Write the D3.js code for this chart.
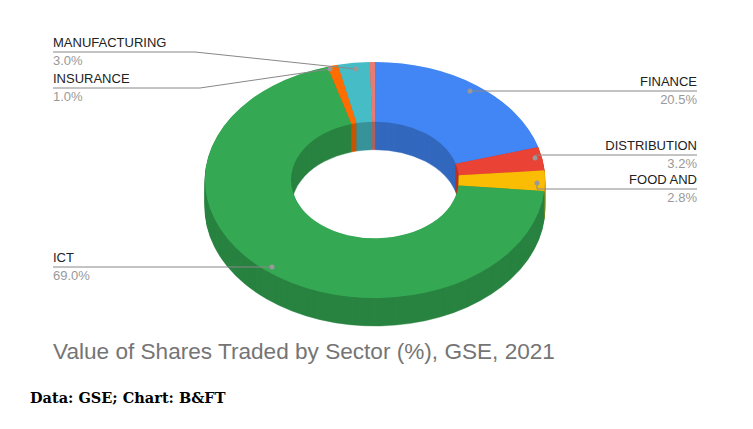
<!DOCTYPE html><html><head><meta charset="utf-8"><script src="https://cdn.jsdelivr.net/npm/d3@7"></script>
<style>body{margin:0;background:#fff}</style></head><body><svg id="c" width="753" height="429"></svg>
<script>
const categories=["FINANCE","DISTRIBUTION","FOOD AND","ICT","INSURANCE","MANUFACTURING","OTHER"];
const values=[20.5,3.2,2.8,69.0,1.0,3.0,0.5];
const colors=["#4285f4","#ea4335","#fbbc04","#34a853","#ff6d01","#46bdc6","#e67c73"];
(function(){
const svg=d3.select("#c");
const cx=375,cy=180,rx=170,ry=118,ir=84,depth=28,k=ry/rx;
const pie=d3.pie().sort(null).value(d=>d)(values);
const arc=d3.arc().innerRadius(ir).outerRadius(rx);
for(let d=depth;d>0;d--){
  const g=svg.append("g").attr("transform",`translate(${cx},${cy+d}) scale(1,${k})`);
  g.selectAll("path").data(pie).join("path").attr("d",arc)
   .attr("fill",(p,i)=>d3.color(colors[i]).darker(0.7)).attr("stroke",(p,i)=>d3.color(colors[i]).darker(0.7)).attr("stroke-width",0.5);
}
const topG=svg.append("g").attr("transform",`translate(${cx},${cy}) scale(1,${k})`);
topG.selectAll("path").data(pie).join("path").attr("d",arc).attr("fill",(p,i)=>colors[i]);
const labels=[
 {i:0,side:"r",ly:91,anchor:[470,91]},
 {i:1,side:"r",ly:155,anchor:[535,158]},
 {i:2,side:"r",ly:189,anchor:[537,183]},
 {i:3,side:"l",ly:267,anchor:[272,267]},
 {i:4,side:"l",ly:88,anchor:[330,69],bend:[200,88]},
 {i:5,side:"l",ly:52,anchor:[356,69],bend:[195,52]}
];
const F="'Liberation Sans',Arial,sans-serif";
labels.forEach(l=>{
  const x0=l.side==="r"?697:53;
  const pts=[[x0,l.ly]];
  if(l.bend)pts.push(l.bend);else pts.push([l.anchor[0],l.ly]);
  pts.push(l.anchor);
  svg.append("path").attr("d",d3.line()(pts)).attr("fill","none").attr("stroke","#888").attr("stroke-width",1);
  svg.append("circle").attr("cx",l.anchor[0]).attr("cy",l.anchor[1]).attr("r",2.5).attr("fill","#999");
  const a=l.side==="r"?"end":"start";
  svg.append("text").attr("x",x0).attr("y",l.ly-5).attr("text-anchor",a).attr("font-family",F).attr("font-size",13).attr("fill","#222").text(categories[l.i]);
  svg.append("text").attr("x",x0).attr("y",l.ly+13).attr("text-anchor",a).attr("font-family",F).attr("font-size",13).attr("fill","#999").text(values[l.i].toFixed(1)+"%");
});
svg.append("text").attr("x",53).attr("y",359).attr("font-family",F).attr("font-size",22.6).attr("fill","#757575").text("Value of Shares Traded by Sector (%), GSE, 2021");
svg.append("text").attr("x",30).attr("y",403).attr("font-family","'DejaVu Serif',serif").attr("font-weight","bold").attr("font-size",14.5).attr("fill","#000").text("Data: GSE; Chart: B&FT");
})();
</script></body></html>
